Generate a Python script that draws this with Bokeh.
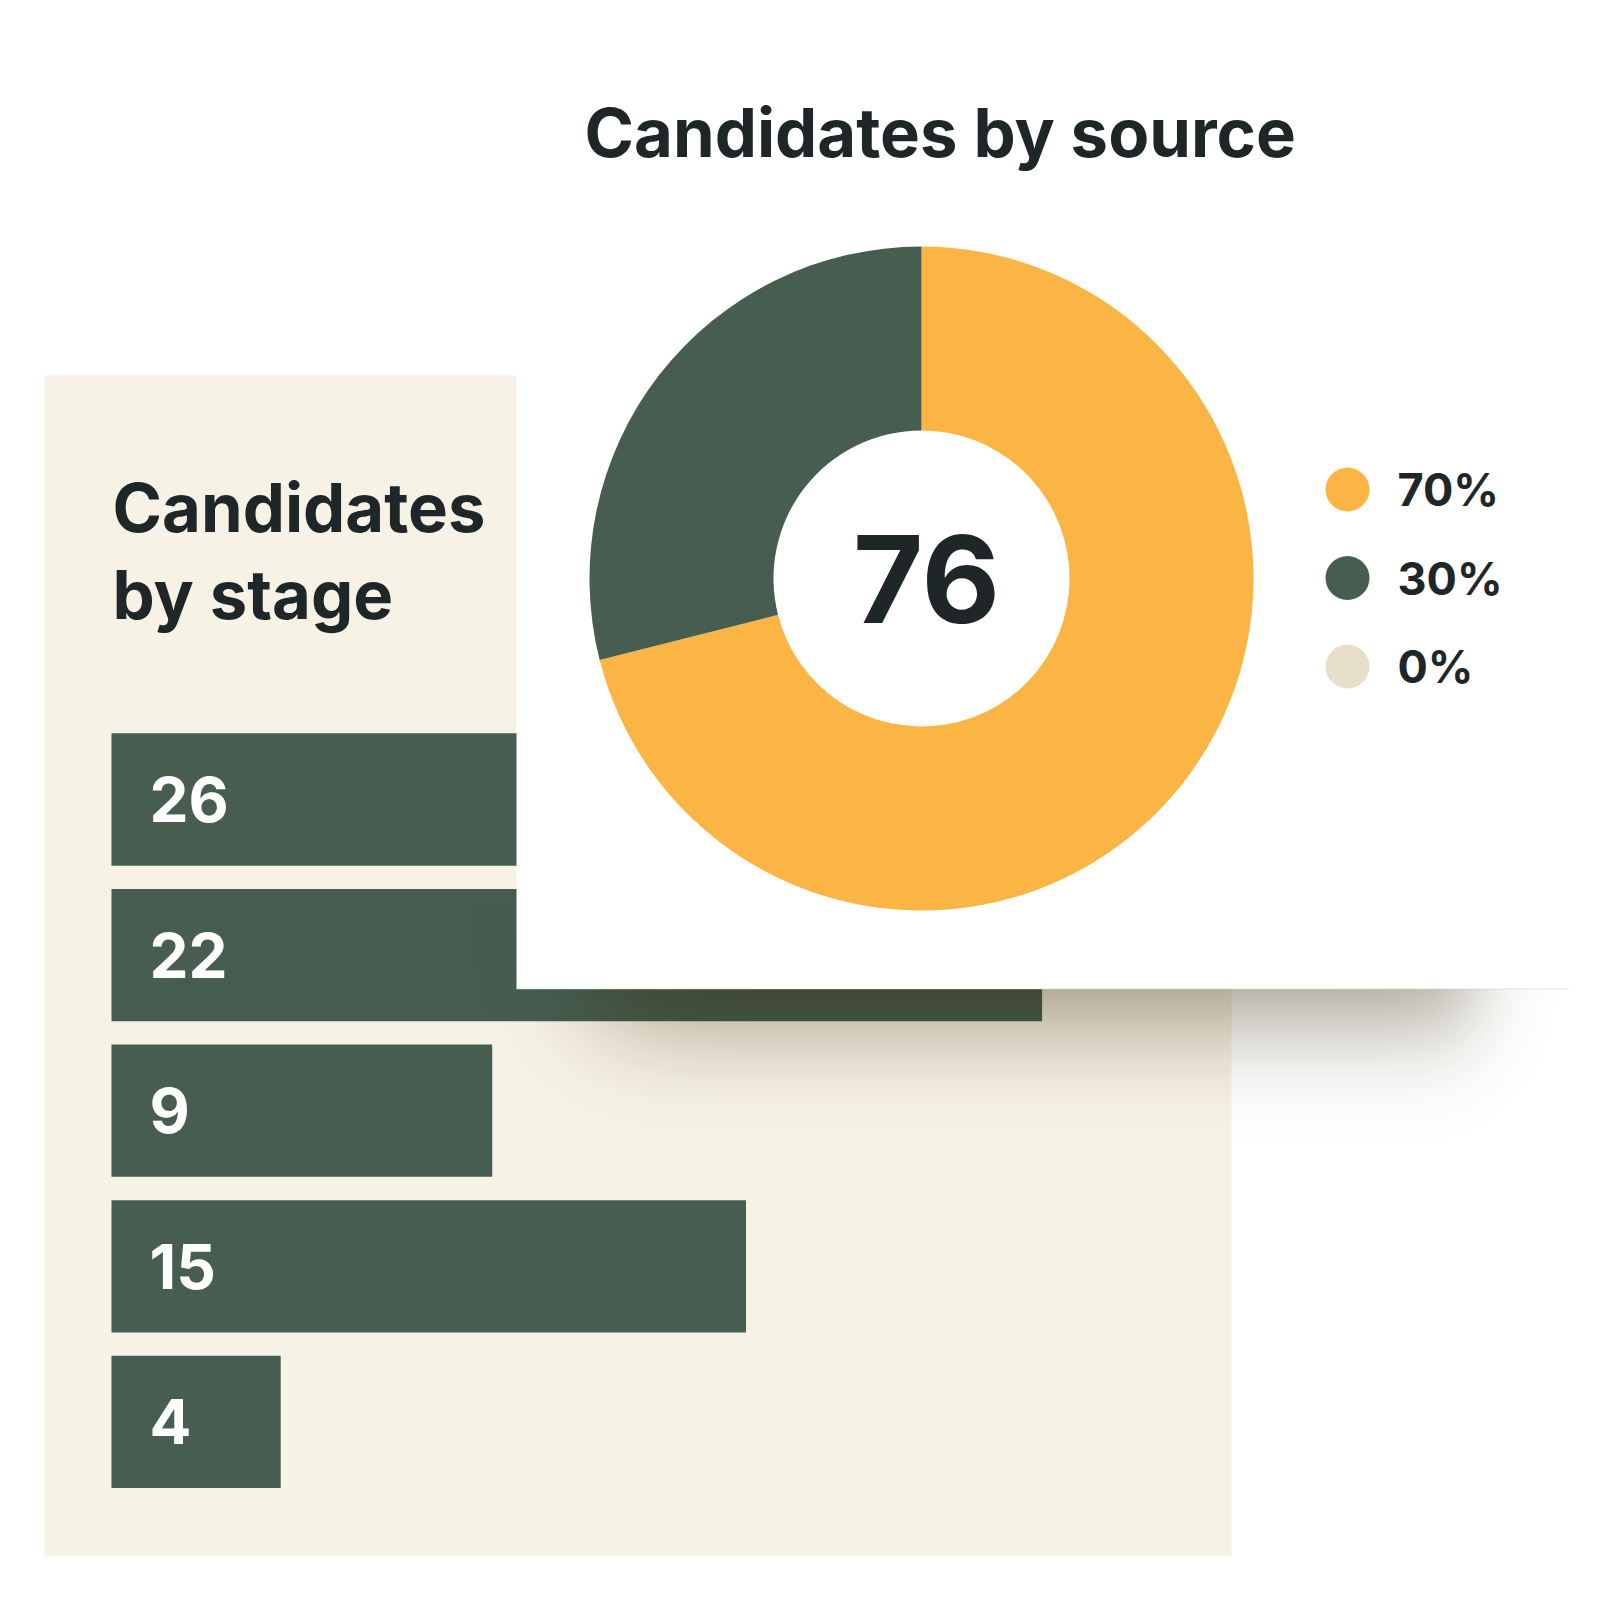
import math
import numpy as np
from bokeh.plotting import figure
from bokeh.models import Range1d, ColumnDataSource
from bokeh.core.properties import value
from bokeh.embed import file_html
from bokeh.resources import INLINE

# ---------------- data ----------------
stage_values = [26, 22, 9, 15, 4]
stage_title = ["Candidates", "by stage"]

source_values = [54, 22, 0]
source_labels = ["70%", "30%", "0%"]
source_colors = ["#FBB545", "#465D50", "#E8DFCB"]
source_title = "Candidates by source"

# ---------------- styling / layout ----------------
FONT = value("Inter")
TEXT_DARK = "#1F2628"
BAR_GREEN = "#465D50"
PANEL_BEIGE = "#F6F2E6"

W = H = 1584
PAGE = 1600


def Y(page_y):
    return PAGE - page_y


p = figure(width=W, height=H, x_range=Range1d(0, W), y_range=Range1d(PAGE - H, PAGE),
           output_backend="svg", toolbar_location=None, min_border=0,
           x_axis_location=None, y_axis_location=None,
           background_fill_color="white", border_fill_color="white",
           outline_line_color=None)
p.grid.visible = False

# bar scale: value 0 at page x 111, 42.3 px per candidate; rows 155.6 px apart
BAR_X0, UNIT = 111, 42.3
ROW0, STEP = 799, 155.6
p.extra_x_ranges = {"val": Range1d((0 - BAR_X0) / UNIT, (W - BAR_X0) / UNIT)}
p.extra_y_ranges = {"stage": Range1d((H - ROW0) / STEP, (0 - ROW0) / STEP)}

# beige card
p.quad(left=44, right=1231, top=Y(375), bottom=Y(1555), fill_color=PANEL_BEIGE, line_color=None)

# bars
bsrc = ColumnDataSource(dict(idx=list(range(len(stage_values))), val=stage_values,
                             lab=[str(v) for v in stage_values]))
p.hbar(y="idx", left=0, right="val", height=0.85, source=bsrc,
       x_range_name="val", y_range_name="stage", fill_color=BAR_GREEN, line_color=None)
p.text(x=0, y="idx", text="lab", source=bsrc, x_range_name="val", y_range_name="stage",
       x_offset=38, text_align="left", text_baseline="middle", text_color="white",
       text_font=FONT, text_font_style="bold", text_font_size=value("62px"))

# stage title (two lines)
p.text(x=[112, 112], y=[Y(506.5), Y(594)], text=stage_title, text_align="left",
       text_baseline="middle", text_color=TEXT_DARK, text_font=FONT,
       text_font_style="bold", text_font_size=value("67px"))

# soft drop shadow of the white card (gaussian-blurred rectangle as an RGBA image)
SX0, SX1, SY0, SY1 = 470, 1600, 900, 1220   # page-pixel extent of the shadow image
phi = np.vectorize(lambda t: 0.5 * (1.0 + math.erf(t / math.sqrt(2.0))))
xs = np.arange(SX0, SX1) + 0.5
ys = SY1 - (np.arange(SY1 - SY0) + 0.5)          # image rows go bottom -> top
ax = phi((xs - 600) / 55.0) * phi((1472 - xs) / 38.0)
ay = phi((1020 - ys) / 52.0)
alpha = 0.45 * np.outer(ay, ax)
img = np.empty(alpha.shape, dtype=np.uint32)
view = img.view(dtype=np.uint8).reshape(alpha.shape + (4,))
view[..., 0] = 50
view[..., 1] = 34
view[..., 2] = 0
view[..., 3] = np.clip(alpha * 255, 0, 255).astype(np.uint8)
p.image_rgba(image=[img], x=SX0, y=Y(SY1), dw=SX1 - SX0, dh=SY1 - SY0)

# white card
p.quad(left=516, right=1600, top=Y(0), bottom=Y(988.5), fill_color="white", line_color=None)
p.segment(x0=[516], y0=[Y(988.5)], x1=[1568], y1=[Y(988.5)], line_color="#D3D0C5",
          line_width=1, line_alpha=0.6)

# donut
vals = np.array(source_values, dtype=float)
frac = vals / vals.sum()
cum = np.concatenate([[0.0], np.cumsum(frac)])
start = np.pi / 2 - 2 * np.pi * cum[:-1]
end = np.pi / 2 - 2 * np.pi * cum[1:]
mask = vals > 0
dsrc = ColumnDataSource(dict(start=start[mask], end=end[mask],
                             color=[c for c, m in zip(source_colors, mask) if m]))
CX, CY = 921, Y(578)
p.annular_wedge(x=CX, y=CY, inner_radius=148, outer_radius=332,
                inner_radius_units="screen", outer_radius_units="screen",
                start_angle="start", end_angle="end", direction="clock",
                fill_color="color", line_color=None, source=dsrc)

p.text(x=[CX + 5], y=[CY], text=[str(int(vals.sum()))], text_align="center",
       text_baseline="middle", text_color=TEXT_DARK, text_font=FONT,
       text_font_style="bold", text_font_size=value("121px"))

# legend
lsrc = ColumnDataSource(dict(y=[Y(489 + 88.5 * i) for i in range(len(source_labels))],
                             lab=source_labels, color=source_colors))
p.scatter(x=1347, y="y", size=44, marker="circle", fill_color="color", line_color=None, source=lsrc)
p.text(x=1397, y="y", text="lab", source=lsrc, text_align="left", text_baseline="middle",
       text_color=TEXT_DARK, text_font=FONT, text_font_style="bold",
       text_font_size=value("45px"))

# main title
p.text(x=[584], y=[Y(131.5)], text=[source_title], text_align="left",
       text_baseline="middle", text_color=TEXT_DARK, text_font=FONT,
       text_font_style="bold", text_font_size=value("67px"))

open("out.html", "w").write(file_html(p, INLINE))
